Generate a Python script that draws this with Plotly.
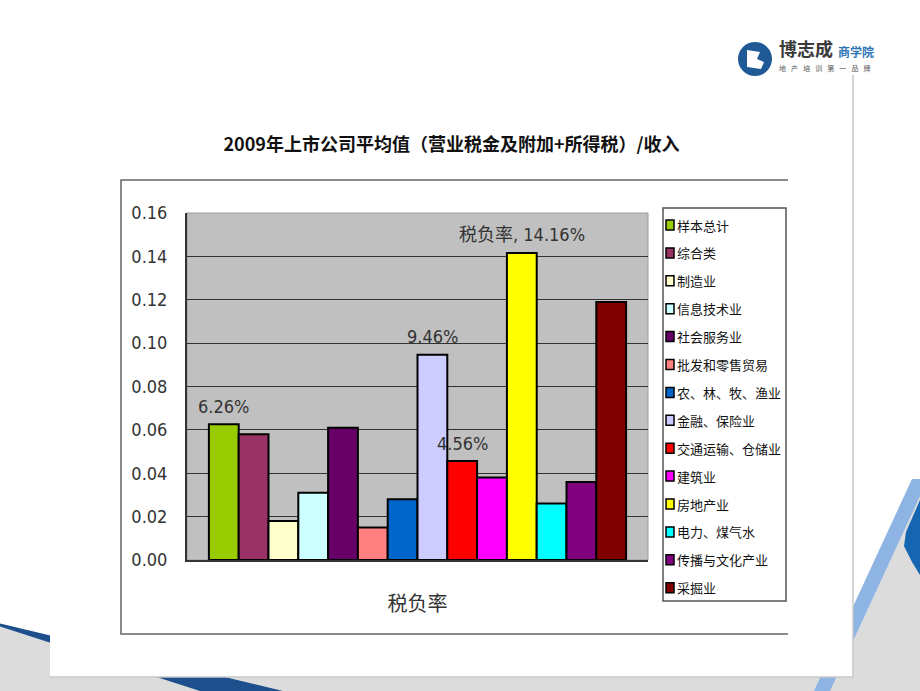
import plotly.graph_objects as go

W, H = 920, 691

category = ["税负率"]
industries = ["样本总计", "综合类", "制造业", "信息技术业", "社会服务业", "批发和零售贸易",
              "农、林、牧、渔业", "金融、保险业", "交通运输、仓储业", "建筑业", "房地产业",
              "电力、煤气水", "传播与文化产业", "采掘业"]
values = [0.0626, 0.058, 0.018, 0.031, 0.061, 0.015, 0.028, 0.0946, 0.0456, 0.038,
          0.1416, 0.026, 0.036, 0.119]
labels = ["6.26%", "", "", "", "", "", "", "9.46%", "4.56%", "", "税负率, 14.16%", "", "", ""]
colors = ["#99CC00", "#993366", "#FFFFCC", "#CCFFFF", "#660066", "#FF8080", "#0066CC",
          "#CCCCFF", "#FF0000", "#FF00FF", "#FFFF00", "#00FFFF", "#800080", "#800000"]
y_ticks = [0.00, 0.02, 0.04, 0.06, 0.08, 0.10, 0.12, 0.14, 0.16]
title = "2009年上市公司平均值（营业税金及附加+所得税）/收入"

NARROW = "Liberation Sans Narrow, DejaVu Sans Condensed, Liberation Sans, Noto Sans CJK SC, sans-serif"
CJK = "Noto Sans CJK SC, sans-serif"
BARGAP = 0.095


def X(px):
    return px / W


def Y(py):
    return 1 - py / H


fig = go.Figure()
for name, v, c in zip(industries, values, colors):
    fig.add_trace(go.Bar(
        x=category, y=[v], name=name,
        marker=dict(color=c, line=dict(color="#000000", width=2)),
        showlegend=False, hoverinfo="name+y",
    ))

annotations = []
# data labels, positioned on the category axis from the bar index
n = len(values)
slot = (1 - BARGAP) / n
for i, (v, t) in enumerate(zip(values, labels)):
    if not t:
        continue
    annotations.append(dict(x=-(1 - BARGAP) / 2 + (i + 0.5) * slot, y=v, xref="x", yref="y",
                            text=t, showarrow=False, xanchor="center", yanchor="middle",
                            yshift=18,
                            font=dict(family=NARROW, size=18, color="#333333")))

shapes = []
# background decorations
shapes.append(dict(type="path", xref="paper", yref="paper", layer="below",
                   path=f"M {X(0)},{Y(625)} L {X(320)},{Y(714)} L {X(0)},{Y(714)} Z",
                   fillcolor="#dcdcdc", line=dict(width=0)))
shapes.append(dict(type="rect", xref="paper", yref="paper", layer="below",
                   x0=X(0), x1=X(920), y0=Y(677), y1=Y(691),
                   fillcolor="#dcdcdc", line=dict(width=0)))
shapes.append(dict(type="path", xref="paper", yref="paper", layer="below",
                   path=f"M {X(0)},{Y(623.5)} L {X(283)},{Y(691)} L {X(200)},{Y(691)} L {X(0)},{Y(626.5)} Z",
                   fillcolor="#1c4f8c", line=dict(width=0)))
shapes.append(dict(type="path", xref="paper", yref="paper", layer="below",
                   path=f"M {X(830)},{Y(691)} L {X(920)},{Y(691)} L {X(920)},{Y(496)} Z",
                   fillcolor="#dcdcdc", line=dict(width=0)))
shapes.append(dict(type="path", xref="paper", yref="paper", layer="below",
                   path=f"M {X(814)},{Y(691)} L {X(830)},{Y(691)} L {X(928)},{Y(479)} L {X(912)},{Y(479)} Z",
                   fillcolor="#8db4e2", line=dict(width=0)))
shapes.append(dict(type="path", xref="paper", yref="paper", layer="below",
                   path=f"M {X(920)},{Y(500)} L {X(906)},{Y(532)} L {X(904)},{Y(546)} L {X(912)},{Y(562)} L {X(920)},{Y(575)} Z",
                   fillcolor="#1565b0", line=dict(width=0)))
# slide
shapes.append(dict(type="rect", xref="paper", yref="paper", layer="below",
                   x0=X(50), x1=X(853), y0=Y(677), y1=Y(0),
                   fillcolor="#ffffff", line=dict(width=0)))
shapes.append(dict(type="path", xref="paper", yref="paper", layer="below",
                   path=f"M {X(853)},{Y(75)} L {X(853)},{Y(677)} L {X(50)},{Y(677)}",
                   line=dict(color="#c8c8c8", width=1.5)))
# chart frame
shapes.append(dict(type="path", xref="paper", yref="paper", layer="below",
                   path=f"M {X(788)},{Y(180)} L {X(121)},{Y(180)} L {X(121)},{Y(634)} L {X(788)},{Y(634)}",
                   line=dict(color="#666666", width=1.5)))
# plot area background
shapes.append(dict(type="rect", xref="x domain", yref="y domain", layer="below",
                   x0=0, x1=1, y0=0, y1=1, fillcolor="#C0C0C0",
                   line=dict(color="#9a9a9a", width=1)))
# legend box
shapes.append(dict(type="rect", xref="paper", yref="paper",
                   x0=X(663), x1=X(786), y0=Y(601), y1=Y(208),
                   fillcolor="#ffffff", line=dict(color="#555555", width=1.5)))
for i, (name, c) in enumerate(zip(industries, colors)):
    yc = 225 + i * 27.9
    shapes.append(dict(type="rect", xref="paper", yref="paper",
                       x0=X(666), x1=X(674), y0=Y(yc + 5), y1=Y(yc - 5),
                       fillcolor=c, line=dict(color="#000000", width=1.5)))
    annotations.append(dict(x=X(675), y=Y(yc), xref="paper", yref="paper",
                            text=name, showarrow=False, xanchor="left", yanchor="middle",
                            font=dict(family=CJK, size=13, color="#111111")))

# logo
shapes.append(dict(type="circle", xref="paper", yref="paper",
                   x0=X(738), x1=X(772), y0=Y(76), y1=Y(42),
                   fillcolor="#1f5a96", line=dict(width=0)))
shapes.append(dict(type="path", xref="paper", yref="paper",
                   path=f"M {X(747)},{Y(50)} L {X(760)},{Y(52)} L {X(757)},{Y(59)} L {X(764)},{Y(62)} L {X(761)},{Y(69)} L {X(747)},{Y(67)} Z",
                   fillcolor="#ffffff", line=dict(width=0)))
annotations.append(dict(x=X(777), y=Y(48), xref="paper", yref="paper", text="<b>博志成</b>",
                        showarrow=False, xanchor="left", yanchor="middle",
                        font=dict(family=CJK, size=18, color="#3a3a3a")))
annotations.append(dict(x=X(836), y=Y(52), xref="paper", yref="paper", text="<b>商学院</b>",
                        showarrow=False, xanchor="left", yanchor="middle",
                        font=dict(family=CJK, size=12, color="#2e75b6")))
annotations.append(dict(x=X(777), y=Y(67.5), xref="paper", yref="paper",
                        text="\u2002\u00a0".join("地产培训第一品牌"),
                        showarrow=False, xanchor="left", yanchor="middle",
                        font=dict(family=CJK, size=7, color="#555555")))

fig.update_layout(
    width=W, height=H, margin=dict(l=0, r=0, t=0, b=0, pad=0, autoexpand=False),
    paper_bgcolor="#ffffff", plot_bgcolor="rgba(0,0,0,0)",
    barmode="group", bargap=BARGAP, bargroupgap=0,
    showlegend=False,
    title=dict(text="<b>" + title + "</b>", x=451.5 / W, y=Y(145), xref="paper", yref="paper",
               xanchor="center", yanchor="middle", automargin=False,
               font=dict(family=CJK, size=18, color="#111111")),
    xaxis=dict(domain=[X(187), X(648)], showgrid=False, showline=True, automargin=False,
               linecolor="#333333", linewidth=2, ticks="", ticklabelstandoff=25,
               tickfont=dict(family=CJK, size=20, color="#333333"), fixedrange=True),
    yaxis=dict(domain=[Y(560), Y(213)], range=[0, 0.16], tickvals=y_ticks, automargin=False,
               tickformat=".2f", showgrid=True, gridcolor="#333333", gridwidth=1,
               showline=True, linecolor="#333333", linewidth=2, zeroline=False,
               ticks="", ticklabelstandoff=14,
               tickfont=dict(family=NARROW, size=18, color="#333333"), fixedrange=True),
    shapes=shapes, annotations=annotations,
)

fig.write_html("out.html")
